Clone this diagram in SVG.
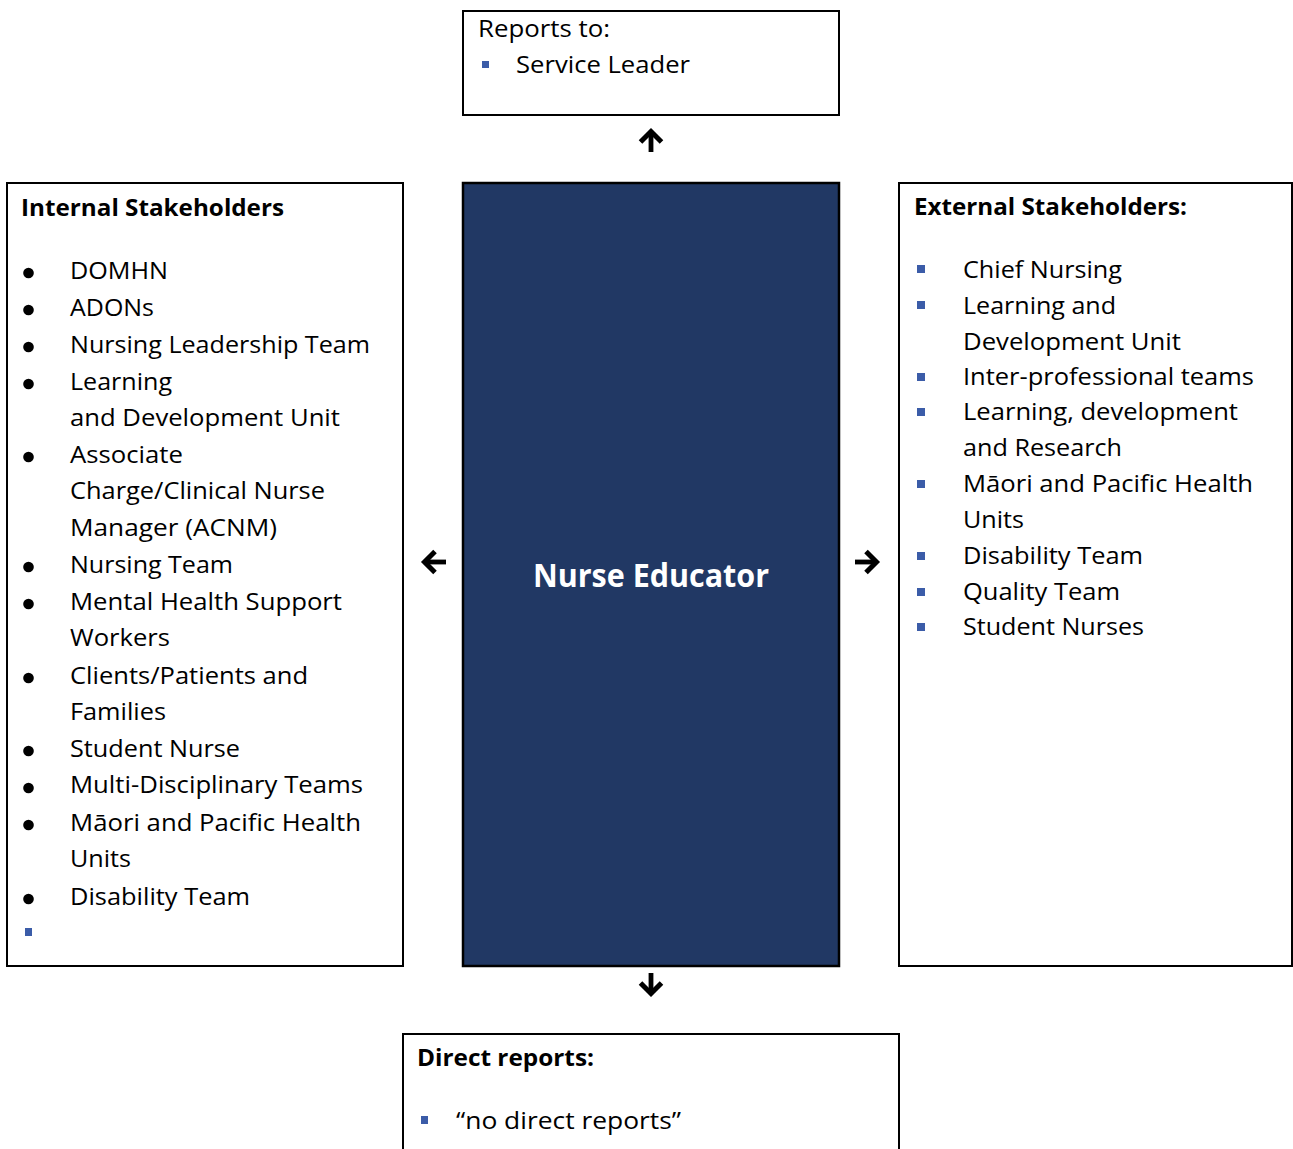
<svg xmlns="http://www.w3.org/2000/svg" width="1293" height="1149" viewBox="0 0 1293 1149">
<defs>
<style>
.box{fill:#ffffff;stroke:#000000;stroke-width:2}
.core{fill:#213864;stroke:#000000;stroke-width:2.5}
.t{font-family:"Open Sans","Liberation Sans",sans-serif;font-size:23px;fill:#000000}
.h{font-family:"Open Sans","Liberation Sans",sans-serif;font-size:23px;font-weight:bold;fill:#000000}
.title{font-family:"Open Sans","Liberation Sans",sans-serif;font-size:32px;font-weight:bold;fill:#ffffff}
.sq{fill:#3b5ca8}
.dot{fill:#000000}
.conn{fill:none;stroke:#000000;stroke-width:4.8;marker-end:url(#head)}
</style>
<marker id="head" markerUnits="userSpaceOnUse" viewBox="0 0 26 26" markerWidth="26" markerHeight="26" refX="16" refY="13" orient="auto">
<polyline points="5,2.5 15.5,13 5,23.5" fill="none" stroke="#000000" stroke-width="5" stroke-linejoin="miter"/>
</marker>
</defs>
<rect width="1293" height="1149" fill="#ffffff"/>

<g id="reports-to">
<rect class="box" x="463" y="11" width="376" height="104"/>
<text class="t" x="478" y="37" textLength="132" lengthAdjust="spacingAndGlyphs">Reports to:</text>
<rect class="sq" x="482" y="61" width="7" height="7"/>
<text class="t" x="516" y="73" textLength="174" lengthAdjust="spacingAndGlyphs">Service Leader</text>
</g>

<g id="internal-stakeholders">
<rect class="box" x="7" y="183" width="396" height="783"/>
<text class="h" x="21" y="216" textLength="263" lengthAdjust="spacingAndGlyphs">Internal Stakeholders</text>
<circle class="dot" cx="28.5" cy="273" r="5.3"/>
<text class="t" x="70" y="279" textLength="98" lengthAdjust="spacingAndGlyphs">DOMHN</text>
<circle class="dot" cx="28.5" cy="310" r="5.3"/>
<text class="t" x="70" y="316" textLength="84" lengthAdjust="spacingAndGlyphs">ADONs</text>
<circle class="dot" cx="28.5" cy="347" r="5.3"/>
<text class="t" x="70" y="353" textLength="300" lengthAdjust="spacingAndGlyphs">Nursing Leadership Team</text>
<circle class="dot" cx="28.5" cy="384" r="5.3"/>
<text class="t" x="70" y="390" textLength="102" lengthAdjust="spacingAndGlyphs">Learning</text>
<text class="t" x="70" y="426" textLength="270" lengthAdjust="spacingAndGlyphs">and Development Unit</text>
<circle class="dot" cx="28.5" cy="457" r="5.3"/>
<text class="t" x="70" y="463" textLength="113" lengthAdjust="spacingAndGlyphs">Associate</text>
<text class="t" x="70" y="499" textLength="255" lengthAdjust="spacingAndGlyphs">Charge/Clinical Nurse</text>
<text class="t" x="70" y="536" textLength="207" lengthAdjust="spacingAndGlyphs">Manager (ACNM)</text>
<circle class="dot" cx="28.5" cy="567" r="5.3"/>
<text class="t" x="70" y="573" textLength="163" lengthAdjust="spacingAndGlyphs">Nursing Team</text>
<circle class="dot" cx="28.5" cy="604" r="5.3"/>
<text class="t" x="70" y="610" textLength="272" lengthAdjust="spacingAndGlyphs">Mental Health Support</text>
<text class="t" x="70" y="646" textLength="100" lengthAdjust="spacingAndGlyphs">Workers</text>
<circle class="dot" cx="28.5" cy="678" r="5.3"/>
<text class="t" x="70" y="684" textLength="238" lengthAdjust="spacingAndGlyphs">Clients/Patients and</text>
<text class="t" x="70" y="720" textLength="96" lengthAdjust="spacingAndGlyphs">Families</text>
<circle class="dot" cx="28.5" cy="751" r="5.3"/>
<text class="t" x="70" y="757" textLength="170" lengthAdjust="spacingAndGlyphs">Student Nurse</text>
<circle class="dot" cx="28.5" cy="788" r="5.3"/>
<text class="t" x="70" y="793" textLength="293" lengthAdjust="spacingAndGlyphs">Multi-Disciplinary Teams</text>
<circle class="dot" cx="28.5" cy="825" r="5.3"/>
<text class="t" x="70" y="831" textLength="291" lengthAdjust="spacingAndGlyphs">Māori and Pacific Health</text>
<text class="t" x="70" y="867" textLength="61" lengthAdjust="spacingAndGlyphs">Units</text>
<circle class="dot" cx="28.5" cy="899" r="5.3"/>
<text class="t" x="70" y="905" textLength="180" lengthAdjust="spacingAndGlyphs">Disability Team</text>
<rect class="sq" x="25" y="928" width="7" height="8"/>
</g>

<g id="nurse-educator">
<rect class="core" x="463" y="183" width="376" height="783"/>
<text class="title" x="651" y="587" text-anchor="middle" textLength="236" lengthAdjust="spacingAndGlyphs">Nurse Educator</text>
</g>

<g id="external-stakeholders">
<rect class="box" x="899" y="183" width="393" height="783"/>
<text class="h" x="914" y="215" textLength="273" lengthAdjust="spacingAndGlyphs">External Stakeholders:</text>
<rect class="sq" x="917" y="265" width="8" height="8"/>
<text class="t" x="963" y="278" textLength="159" lengthAdjust="spacingAndGlyphs">Chief Nursing</text>
<rect class="sq" x="917" y="301" width="8" height="8"/>
<text class="t" x="963" y="314" textLength="153" lengthAdjust="spacingAndGlyphs">Learning and</text>
<text class="t" x="963" y="350" textLength="218" lengthAdjust="spacingAndGlyphs">Development Unit</text>
<rect class="sq" x="917" y="373" width="8" height="8"/>
<text class="t" x="963" y="385" textLength="291" lengthAdjust="spacingAndGlyphs">Inter-professional teams</text>
<rect class="sq" x="917" y="408" width="8" height="8"/>
<text class="t" x="963" y="420" textLength="275" lengthAdjust="spacingAndGlyphs">Learning, development</text>
<text class="t" x="963" y="456" textLength="159" lengthAdjust="spacingAndGlyphs">and Research</text>
<rect class="sq" x="917" y="480" width="8" height="8"/>
<text class="t" x="963" y="492" textLength="290" lengthAdjust="spacingAndGlyphs">Māori and Pacific Health</text>
<text class="t" x="963" y="528" textLength="61" lengthAdjust="spacingAndGlyphs">Units</text>
<rect class="sq" x="917" y="552" width="8" height="8"/>
<text class="t" x="963" y="564" textLength="180" lengthAdjust="spacingAndGlyphs">Disability Team</text>
<rect class="sq" x="917" y="588" width="8" height="8"/>
<text class="t" x="963" y="600" textLength="157" lengthAdjust="spacingAndGlyphs">Quality Team</text>
<rect class="sq" x="917" y="623" width="8" height="8"/>
<text class="t" x="963" y="635" textLength="181" lengthAdjust="spacingAndGlyphs">Student Nurses</text>
</g>

<g id="direct-reports">
<rect class="box" x="403" y="1034" width="496" height="130"/>
<text class="h" x="417" y="1066" textLength="177" lengthAdjust="spacingAndGlyphs">Direct reports:</text>
<rect class="sq" x="421" y="1116" width="7" height="8"/>
<text class="t" x="456" y="1129" textLength="225" lengthAdjust="spacingAndGlyphs">“no direct reports”</text>
</g>

<g id="connectors">
<path class="conn" d="M651,152 L651,131"/>
<path class="conn" d="M446,562 L424,562"/>
<path class="conn" d="M855,562 L877,562"/>
<path class="conn" d="M651,973 L651,994"/>
</g>
</svg>
